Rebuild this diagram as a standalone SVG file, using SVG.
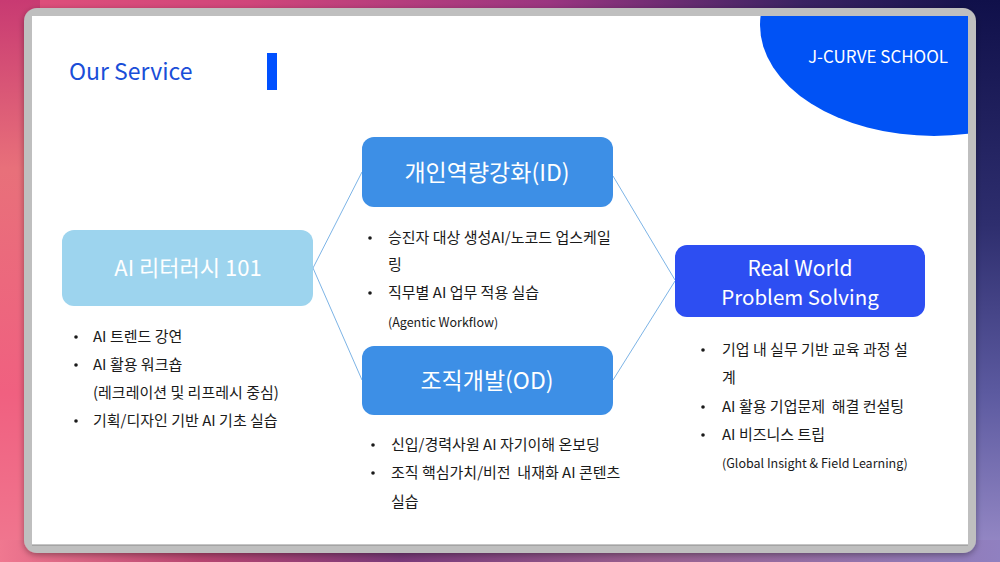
<svg xmlns="http://www.w3.org/2000/svg" width="1000" height="562" viewBox="0 0 1000 562">
<defs>
<linearGradient id="bgH" x1="0" y1="0" x2="1" y2="0">
<stop offset="0" stop-color="#e0507a"/>
<stop offset="0.25" stop-color="#d0457a"/>
<stop offset="0.55" stop-color="#9a3580"/>
<stop offset="0.8" stop-color="#3a2262"/>
<stop offset="1" stop-color="#10104a"/>
</linearGradient>
<linearGradient id="bgL" x1="0" y1="0" x2="0" y2="1">
<stop offset="0" stop-color="#c83a72"/>
<stop offset="0.3" stop-color="#e8707a"/>
<stop offset="0.7" stop-color="#f06080"/>
<stop offset="1" stop-color="#f07890"/>
</linearGradient>
<linearGradient id="bgR" x1="0" y1="0" x2="0" y2="1">
<stop offset="0" stop-color="#10104a"/>
<stop offset="0.4" stop-color="#2e2e6e"/>
<stop offset="0.7" stop-color="#5c5aa0"/>
<stop offset="1" stop-color="#9a8cc8"/>
</linearGradient>
<linearGradient id="bgB" x1="0" y1="0" x2="1" y2="0">
<stop offset="0" stop-color="#f07890"/>
<stop offset="0.2" stop-color="#b84570"/>
<stop offset="0.4" stop-color="#7a3a7a"/>
<stop offset="0.65" stop-color="#9a6090"/>
<stop offset="1" stop-color="#9080c0"/>
</linearGradient>
<clipPath id="slide"><rect x="32" y="16" width="936" height="529"/></clipPath>
<filter id="sh" x="-5%" y="-5%" width="110%" height="115%">
<feDropShadow dx="0" dy="2" stdDeviation="3" flood-color="#000" flood-opacity="0.35"/>
</filter>
<style>
.t{font-family:"Noto Sans CJK KR","Noto Sans",sans-serif;}
.nt{font-family:"Noto Sans CJK KR","Noto Sans",sans-serif;fill:#fff;text-anchor:middle;}
.li{font-family:"Noto Sans CJK KR","Noto Sans",sans-serif;font-size:15px;fill:#1a1a1a;white-space:pre;}
.sm{font-size:12.5px;}
.bul{fill:#1a1a1a;}
.conn line{stroke:#7db4e6;stroke-width:1;fill:none;}
</style>
</defs>
<g id="background">
<rect x="0" y="0" width="1000" height="562" fill="url(#bgH)"/>
<rect x="0" y="0" width="40" height="562" fill="url(#bgL)"/>
<rect x="960" y="0" width="40" height="562" fill="url(#bgR)"/>
<rect x="0" y="540" width="1000" height="22" fill="url(#bgB)"/>
</g>
<g id="frame">
<rect x="24" y="8" width="952" height="545" rx="13" fill="#bfbfbf" filter="url(#sh)"/>
<rect x="32" y="16" width="936" height="529" fill="#ffffff"/>
<line x1="32" y1="545" x2="968" y2="545" stroke="#8a8a8a" stroke-width="1"/>
</g>
<g id="header">
<ellipse cx="934" cy="25" rx="174" ry="111" fill="#0052f5" clip-path="url(#slide)"/>
<text class="t" x="878" y="63" font-size="17" fill="#fff" text-anchor="middle">J-CURVE SCHOOL</text>
<text class="t" x="69" y="80" font-size="23" fill="#1a4ed8">Our Service</text>
<rect x="267" y="53" width="10" height="37" fill="#0050ff"/>
</g>
<g id="connectors" class="conn">
<line x1="313" y1="268" x2="362" y2="172"/>
<line x1="313" y1="268" x2="362" y2="380"/>
<line x1="613" y1="176" x2="675" y2="280"/>
<line x1="613" y1="380" x2="675" y2="281"/>
</g>
<g id="node-ai-literacy">
<rect x="62" y="230" width="251" height="76" rx="12" fill="#9dd4ee"/>
<text class="nt" x="188" y="276" font-size="22">AI 리터러시 101</text>
</g>
<g id="node-id">
<rect x="362" y="137" width="251" height="70" rx="12" fill="#3d8fe6"/>
<text class="nt" x="487" y="181" font-size="23">개인역량강화(ID)</text>
</g>
<g id="node-od">
<rect x="362" y="346" width="251" height="69" rx="12" fill="#3d8fe6"/>
<text class="nt" x="487" y="389" font-size="23">조직개발(OD)</text>
</g>
<g id="node-rw">
<rect x="675" y="245" width="250" height="72" rx="12" fill="#2d4ef2"/>
<text class="nt" x="800" y="276" font-size="21">Real World</text>
<text class="nt" x="800" y="305" font-size="20.5">Problem Solving</text>
</g>
<g id="list-ai-literacy">
<circle class="bul" cx="76" cy="337" r="1.8"/>
<text class="li" x="93" y="342">AI 트렌드 강연</text>
<circle class="bul" cx="76" cy="365" r="1.8"/>
<text class="li" x="93" y="370">AI 활용 워크숍</text>
<text class="li" x="93" y="398">(레크레이션 및 리프레시 중심)</text>
<circle class="bul" cx="76" cy="421" r="1.8"/>
<text class="li" x="93" y="426">기획/디자인 기반 AI 기초 실습</text>
</g>
<g id="list-id">
<circle class="bul" cx="370" cy="238" r="1.8"/>
<text class="li" x="388" y="243">승진자 대상 생성AI/노코드 업스케일</text>
<text class="li" x="388" y="270">링</text>
<circle class="bul" cx="370" cy="293" r="1.8"/>
<text class="li" x="388" y="298">직무별 AI 업무 적용 실습</text>
<text class="li sm" x="388" y="327">(Agentic Workflow)</text>
</g>
<g id="list-od">
<circle class="bul" cx="373" cy="445" r="1.8"/>
<text class="li" x="391" y="450">신입/경력사원 AI 자기이해 온보딩</text>
<circle class="bul" cx="373" cy="473" r="1.8"/>
<text class="li" x="391" y="478">조직 핵심가치/비전  내재화 AI 콘텐츠</text>
<text class="li" x="391" y="507">실습</text>
</g>
<g id="list-rw">
<circle class="bul" cx="703" cy="350" r="1.8"/>
<text class="li" x="722" y="355">기업 내 실무 기반 교육 과정 설</text>
<text class="li" x="722" y="383">계</text>
<circle class="bul" cx="703" cy="407" r="1.8"/>
<text class="li" x="722" y="412">AI 활용 기업문제  해결 컨설팅</text>
<circle class="bul" cx="703" cy="435" r="1.8"/>
<text class="li" x="722" y="440">AI 비즈니스 트립</text>
<text class="li sm" x="722" y="468">(Global Insight &amp; Field Learning)</text>
</g>
</svg>
